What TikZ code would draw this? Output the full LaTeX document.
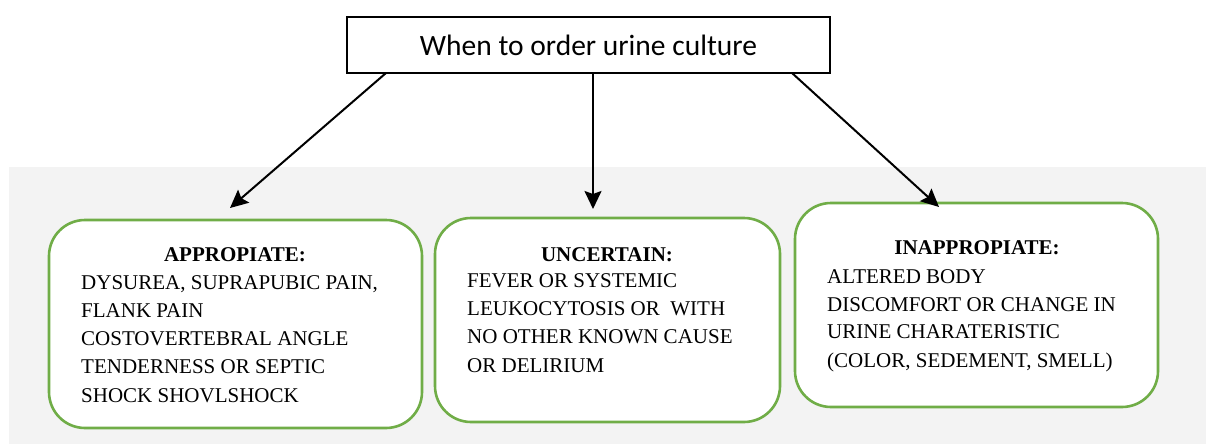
\documentclass[tikz,border=0pt]{standalone}
\usepackage{fontspec}
\setmainfont{Liberation Serif}
\newfontfamily\timesf{Liberation Serif}
\newfontfamily\calib{Carlito}
\usetikzlibrary{arrows.meta}
\definecolor{bggray}{HTML}{F3F3F3}
\definecolor{boxgreen}{HTML}{70AD47}
\tikzset{
  gbox/.style={draw=boxgreen, line width=2.6pt, fill=white, rounded corners=36pt},
  head/.style={anchor=base, inner sep=0pt, font=\timesf\fontsize{21}{25}\selectfont\bfseries},
  body/.style={anchor=base west, inner sep=0pt, font=\timesf\fontsize{21}{25}\selectfont},
  arr/.style={line width=2pt, -{Stealth[length=18pt,width=17pt,inset=3pt]}},
}
\begin{document}
\begin{tikzpicture}[x=1pt,y=-1pt]
\useasboundingbox (0,0) rectangle (1206,444);
\fill[bggray] (9,167) rectangle (1206,444);
% top box
\node[draw=black, line width=1.4pt, fill=white, minimum width=483pt, minimum height=56pt, inner sep=0pt,
  font=\calib\fontsize{29.5}{33}\selectfont] (top) at (588.5,45) {When to order urine culture};
% boxes
\draw[gbox] (49,220) rectangle (422,428);
\draw[gbox] (435,218) rectangle (780,422);
\draw[gbox] (795,203) rectangle (1158,407);
\node[draw=none, inner sep=0pt, minimum width=373pt, minimum height=208pt] (b1) at (235.5,324) {};
\node[draw=none, inner sep=0pt, minimum width=345pt, minimum height=204pt] (b2) at (607.5,320) {};
\node[draw=none, inner sep=0pt, minimum width=363pt, minimum height=204pt] (b3) at (976.5,305) {};
% texts
\node[head] (h1) at (235,261) {APPROPIATE:};
\node[body] (t11) at (81,289) {DYSUREA, SUPRAPUBIC PAIN,};
\node[body] (t12) at (81,317) {FLANK PAIN};
\node[body] (t13) at (81,345) {COSTOVERTEBRAL ANGLE};
\node[body] (t14) at (81,373.5) {TENDERNESS OR SEPTIC};
\node[body] (t15) at (81,402) {SHOCK SHOVLSHOCK};
\node[head] (h2) at (607,261) {UNCERTAIN:};
\node[body] (t21) at (467,287) {FEVER OR SYSTEMIC};
\node[body] (t22) at (467,315) {LEUKOCYTOSIS OR\ \ WITH};
\node[body] (t23) at (467,343) {NO OTHER KNOWN CAUSE};
\node[body] (t24) at (467,372) {OR DELIRIUM};
\node[head] (h3) at (977,254) {INAPPROPIATE:};
\node[body] (t31) at (827,283) {ALTERED BODY};
\node[body] (t32) at (827,311) {DISCOMFORT OR CHANGE IN};
\node[body] (t33) at (827,338.5) {URINE CHARATERISTIC};
\node[body] (t34) at (827,367) {(COLOR, SEDEMENT, SMELL)};
% arrows
\coordinate (s1) at (386,73);
\coordinate (s2) at (593,73);
\coordinate (s3) at (792,73);
\coordinate (e1) at (230,208);
\coordinate (e2) at (593,209);
\coordinate (e3) at (939,207);
\draw[arr] (s1) -- (e1);
\draw[arr] (s2) -- (e2);
\draw[arr] (s3) -- (e3);
\end{tikzpicture}
\end{document}
